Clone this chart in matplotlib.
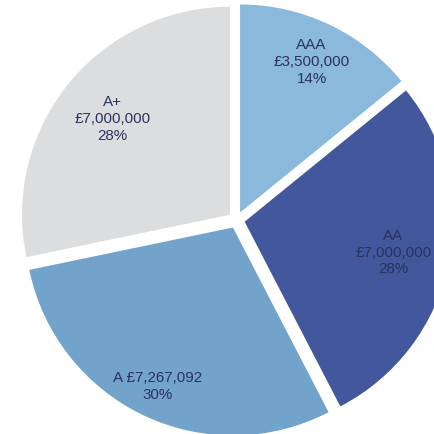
import matplotlib.pyplot as plt
import numpy as np

plt.rcParams["font.family"] = ["Liberation Sans", "DejaVu Sans"]

ratings = ["AAA", "AA", "A", "A+"]
amounts = [3500000, 7000000, 7267092, 7000000]
pct_labels = ["14%", "28%", "30%", "28%"]

colors = ["#8AB9DC", "#42579C", "#72A3CB", "#DCDDDF"]
name_sep = ["\n", "\n", " ", "\n"]          # "A" label sits on one line with its amount
label_dist = [0.80, 0.73, 0.845, 0.73]      # fraction of radius, along each wedge bisector

labels = [f"{r}{s}£{a:,}\n{p}" for r, s, a, p in zip(ratings, name_sep, amounts, pct_labels)]

fig = plt.figure(figsize=(4.34, 4.34), dpi=100)
ax = fig.add_axes([0, 0, 1, 1])

wedges, _ = ax.pie(amounts, colors=colors, startangle=90, counterclock=False,
                   explode=[0.04] * len(amounts), radius=1)

# centre sits right of middle, pie is cropped on the right edge
ax.set_xlim(-236.5 / 208, (434 - 236.5) / 208)
ax.set_ylim(-(434 - 220) / 208, 220 / 208)
ax.set_aspect("equal")
ax.axis("off")

for w, txt, d in zip(wedges, labels, label_dist):
    ang = np.deg2rad((w.theta1 + w.theta2) / 2)
    cx, cy = w.center
    ax.text(cx + d * w.r * np.cos(ang), cy + d * w.r * np.sin(ang), txt,
            ha="center", va="center", fontsize=10.9, color="#2B325E",
            linespacing=1.25)

fig.savefig("out.png", dpi=100, facecolor="white")
